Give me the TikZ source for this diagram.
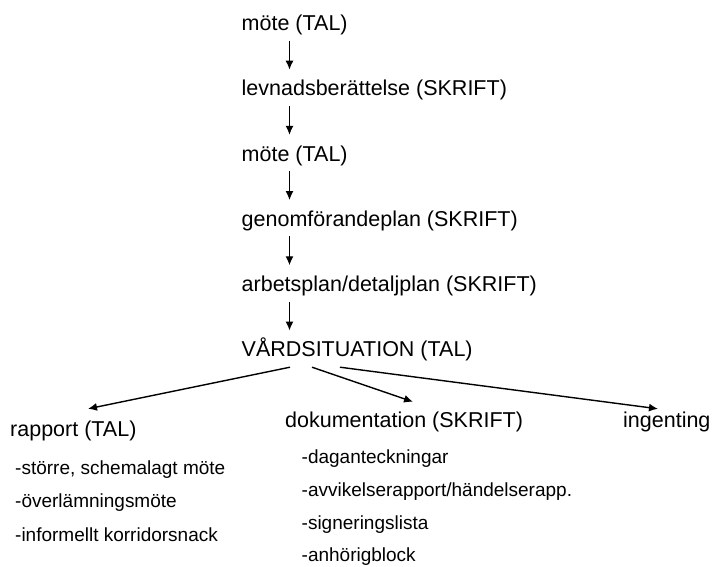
\documentclass[tikz,border=0pt]{standalone}
\usepackage{fontspec}
\setmainfont{Liberation Sans}
\usetikzlibrary{arrows.meta,positioning}

\begin{document}
\begin{tikzpicture}[x=1pt, y=1pt, >=Latex, node distance=43.8pt,
mainbox/.style={inner sep=0pt, text height=16pt, text depth=5pt, font=\fontsize{21.5}{25}\selectfont},
itembox/.style={inner sep=0pt, anchor=base west, font=\fontsize{19}{22}\selectfont},
arr/.style={-{Latex[length=9pt,width=8pt]}, line width=1.4pt}]
\useasboundingbox (0,0) rectangle (713,-567);
% vertical chain
\node[mainbox, anchor=base west] (m1) at (241.5,-30.7) {möte (TAL)};
\node[mainbox, below=of m1.south west, anchor=north west] (lev) {levnadsberättelse (SKRIFT)};
\node[mainbox, below=of lev.south west, anchor=north west] (m2) {möte (TAL)};
\node[mainbox, below=of m2.south west, anchor=north west] (gen) {genomförandeplan (SKRIFT)};
\node[mainbox, below=of gen.south west, anchor=north west] (arb) {arbetsplan/detaljplan (SKRIFT)};
\node[mainbox, below=of arb.south west, anchor=north west] (vard) {VÅRDSITUATION (TAL)};
\coordinate (ax) at (289.5,0);
\foreach \a/\b in {m1/lev, lev/m2, m2/gen, gen/arb, arb/vard}
  \draw[arr, shorten <=5pt, shorten >=10pt] (\a.south -| ax) -- (\b.north -| ax);
% outcomes
\node[mainbox, anchor=base west] (rap) at (10,-436) {rapport (TAL)};
\node[mainbox, anchor=base west] (dok) at (285,-427) {dokumentation (SKRIFT)};
\node[mainbox, anchor=base west] (ing) at (623,-427) {ingenting};
\draw[arr] ([shift={(48.5,-5.3)}]vard.south west) -- ([shift={(78,11)}]rap.north west);
\draw[arr] ([shift={(70.5,-5.3)}]vard.south west) -- ([shift={(128,9)}]dok.north west);
\draw[arr] ([shift={(98.5,-5.3)}]vard.south west) -- ([shift={(35,2)}]ing.north west);
% lists
\node[itembox] (r1) at (15,-474) {-större, schemalagt möte};
\node[itembox] (r2) at (15,-507.5) {-överlämningsmöte};
\node[itembox] (r3) at (15,-541.5) {-informellt korridorsnack};
\node[itembox] (d1) at (301.5,-463.3) {-daganteckningar};
\node[itembox] (d2) at (301.5,-496.7) {-avvikelserapport/händelserapp.};
\node[itembox] (d3) at (301.5,-529) {-signeringslista};
\node[itembox] (d4) at (301.5,-561.5) {-anhörigblock};
\end{tikzpicture}
\end{document}
